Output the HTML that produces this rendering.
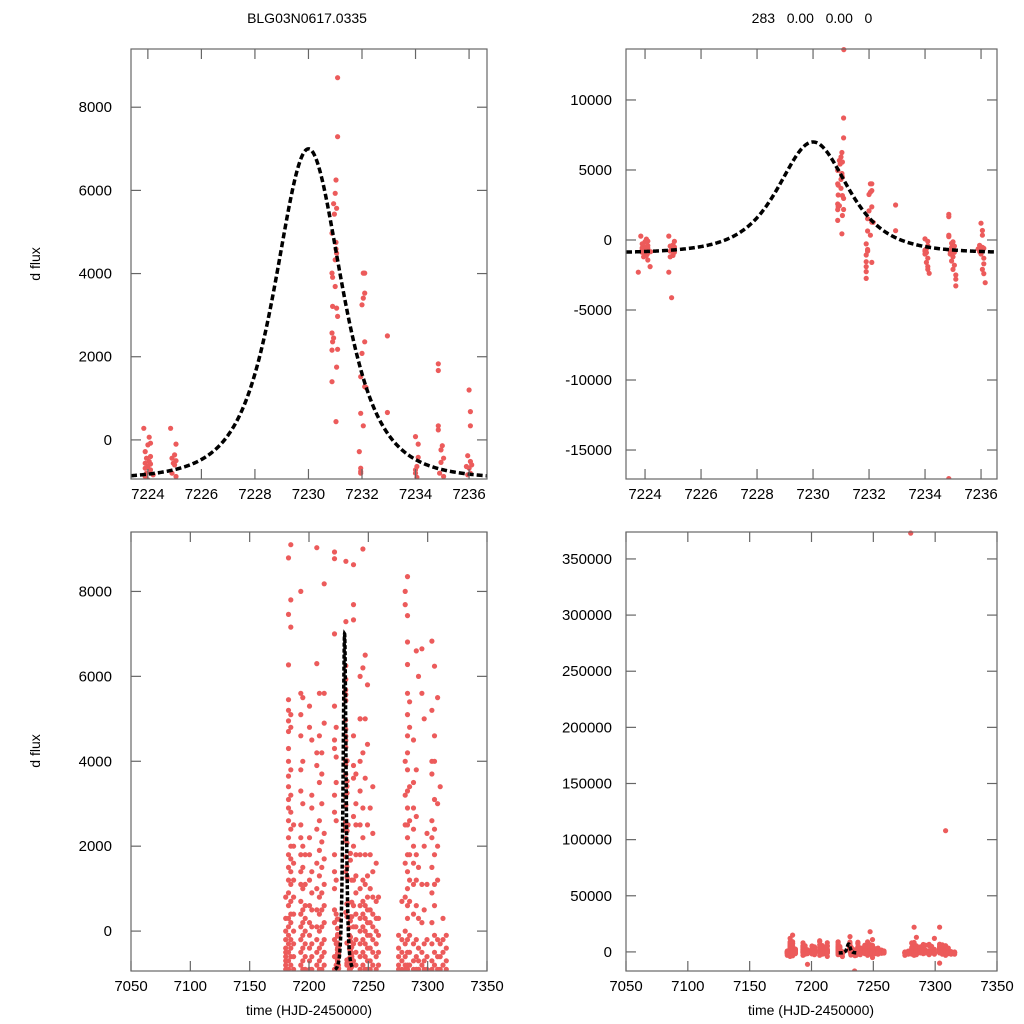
<!DOCTYPE html>
<html><head><meta charset="utf-8">
<style>
html,body{margin:0;padding:0;background:#fff;}
svg{display:block;font-family:"Liberation Sans",sans-serif;}
</style></head>
<body>
<svg id="chart" width="1024" height="1024" viewBox="0 0 1024 1024" xmlns="http://www.w3.org/2000/svg">
<rect width="1024" height="1024" fill="#fff"/>
<text x="307" y="23" font-size="14" text-anchor="middle">BLG03N0617.0335</text>
<text x="812" y="23" font-size="14" text-anchor="middle" xml:space="preserve">283   0.00   0.00   0</text>
<text transform="translate(40,264) rotate(-90)" font-size="14" text-anchor="middle">d flux</text>
<text transform="translate(40,751) rotate(-90)" font-size="14" text-anchor="middle">d flux</text>
<text x="309" y="1015" font-size="14" text-anchor="middle">time (HJD-2450000)</text>
<text x="811" y="1015" font-size="14" text-anchor="middle">time (HJD-2450000)</text>
</svg>
<script>
// ---- data ----
const windowTimes = [7223.85,7224.05,7224.1,7224.0,7223.9,7224.1,7223.95,7224.05,7223.9,7224.1,7224.0,7223.9,7224.1,7223.95,7224.2,7223.9,7224.05,7223.95,7224.1,7224.18,7223.76,7224.0,7224.08,
 7224.85,7225.05,7225.0,7224.9,7225.05,7224.95,7225.0,7224.9,7225.05,7225.0,7224.9,7224.85,7224.95,
 7231.09,7231.09,7231.03,7231.0,7230.94,7231.05,7230.97,7230.88,7231.03,7231.03,7231.05,7231.0,7230.88,7230.9,7231.0,7230.9,7231.05,7231.09,7230.88,7230.94,7230.9,7231.09,7230.88,7231.05,7230.88,7231.03,7231.1,
 7232.05,7232.1,7232.1,7232.05,7232.0,7232.1,7232.0,7231.95,7232.1,7232.15,7231.95,7232.05,7231.9,7231.95,7231.95,7231.95,7231.9,7231.9,7232.1,7231.9,7231.9,7231.9,
 7232.95,7232.95,
 7234.0,7234.1,7234.1,7234.05,7234.0,7234.0,7234.05,7234.0,7234.1,7234.05,7234.1,7234.1,7234.15,
 7234.85,7234.85,7234.85,7234.85,7235.0,7234.95,7235.05,7234.95,7234.9,7235.05,7234.9,7235.0,7234.95,7235.05,7235.0,7235.1,7235.1,7235.1,7234.85,
 7236.0,7236.05,7236.05,7235.95,7236.05,7236.1,7235.9,7236.0,7236.05,7235.95,7236.0,7236.1,7236.1,7236.05,7236.1,7236.15];
const windowFlux = [280,64,-80,-120,-280,-400,-440,-520,-560,-580,-640,-680,-720,-800,-840,-880,-1100,-1200,-1430,-1900,-2300,-960,-1000,
 280,-100,-360,-440,-500,-560,-600,-800,-880,-1100,-1200,-2300,-4120,
 8710,7290,6250,5930,5680,5570,5430,4970,4750,4590,4490,4330,4010,3910,3690,3210,3170,2970,2570,2450,2360,2180,2160,1750,1400,440,13600,
 4010,4010,3530,3410,3250,2360,2080,1520,1280,1260,640,340,-280,-680,-760,-800,-1070,-1550,-1600,-1900,-2260,-2740,
 2500,660,
 80,-100,-420,-640,-720,-800,-900,-1000,-1300,-1600,-1900,-2100,-2380,
 1830,1670,340,240,-140,-240,-440,-540,-800,-880,-1000,-1200,-1500,-1800,-2100,-2500,-2800,-3280,-17040,
 1200,680,340,-380,-520,-600,-640,-680,-800,-840,-1000,-1300,-1700,-2100,-2400,-3050];
const nightTimes = [7180.4,7182.7,7184.7,7187,7193.1,7194.8,7196.8,7200.4,7202.4,7206.6,7208.8,7210.8,7212.8,7221.5,7222.9,
 7237.5,7239.5,7243.1,7245.4,7247.4,7249.3,7251.6,7253.8,7256.6,7258.6,
 7275.5,7278.3,7280.2,7281.1,7283,7284.8,7288.1,7290.4,7292.3,7295.1,7297.1,7299.4,7303.6,7305.8,7308.4,7310.6,7312.9,7315.7];
const nightFlux = [
 [800,300,0,-200,-400,-500,-600,-700,-800,-900,-1200,-2000,-3000],
 [8790,7460,6270,5450,5200,4950,4700,4300,4000,3650,3400,3100,2900,2600,2200,1800,1500,1200,900,600,300,100,-100,-300,-500,-700,-900,-1500,-2500,-4000,12000],
 [9100,7800,7160,5100,4800,3800,3200,2800,2400,2000,1700,1400,1100,700,400,200,-200,-400,-600,-800,-1000,-2000,-3500,15000],
 [2500,2000,1600,1200,800,400,0,-300,-600,-900,-1500],
 [5600,5100,4600,3800,3300,2500,2200,1800,1400,1100,700,400,100,-200,-500,-800,-1000,-3000,8000],
 [5500,4000,3000,2000,1500,1000,500,200,-100,-400,-700,-900,-2000],
 [1800,1100,600,300,0,-300,-600,-900,-1500,-11000],
 [5300,4800,2200,1800,1200,600,200,-100,-400,-700,-900,-1800],
 [4500,3200,2900,1400,900,500,100,-300,-600,-900,-2500],
 [9030,6300,4200,3900,2400,1600,1000,500,100,-200,-500,-800,-1200,-3000,10000],
 [5600,4600,3500,2600,1900,1300,800,400,0,-400,-700,-900,-2000],
 [4200,3700,3000,2100,1500,900,500,100,-300,-600,-900,-1600],
 [8180,5600,4900,2300,1700,1100,600,200,-200,-500,-800,-1000,-4000],
 [8930,8770,7000,5300,4500,4300,3200,2800,1800,1400,1000,500,200,-200,-600,-900,-2500],
 [4800,4100,3500,2600,1200,400,-300,-800],
 [8630,7690,7330,4600,3900,3600,2700,2000,1200,600,100,-300,-700,-1000,-2000],
 [3700,3000,2500,1800,1300,900,400,100,-200,-500,-800,-1200,-2500],
 [6000,5000,4000,3300,2500,1800,1000,600,300,0,-300,-600,-900,-1500,5000],
 [6200,4200,2900,2200,1200,700,400,100,-200,-500,-800,-1000,-3000,9000],
 [6500,5000,3600,1800,1100,600,300,0,-300,-600,-900,-2000,18000],
 [5800,4400,2500,1300,800,500,200,-100,-400,-700,-900,-5000,11000],
 [2900,1800,1000,500,200,-100,-400,-700,-900,-1500],
 [3400,2300,1400,800,400,100,-200,-500,-800,-2000],
 [1600,700,300,0,-300,-600,-900,-1200],
 [800,300,-100,-500,-800,-1000],
 [-100,-400,-600,-800,-900,-1500,-3000],
 [700,-200,-500,-700,-900,-2000],
 [373000],
 [7690,4000,3200,2500,1600,800,0,-300,-600,-800,-900,-2000,8000],
 [8350,7430,6810,6280,5600,5100,4600,4200,3800,3300,2900,2500,2200,1800,1400,1000,600,300,-200,-500,-800,-900,-3000,22000],
 [5400,4800,3400,2600,1800,1200,700,-100,-500,-800,-2500,13000],
 [4500,3500,2900,2400,2000,1600,1100,400,-300,-700,-900],
 [6600,3800,2700,1800,1200,600,-200,-600,-900,-1500],
 [6000,1500,300,-400,-700,-900],
 [6650,5600,1100,200,-500,-800,-1200,-2500],
 [5000,2000,500,-300,-700,-900],
 [2300,1100,-200,-600,-900,-2000,12000],
 [6830,5200,4000,3700,2600,2200,1500,900,200,-300,-700,-900,-10000,22000],
 [6240,4600,4000,3100,2400,1800,1100,600,-100,-500,-800,-2000],
 [5500,3000,2000,1200,-200,-600,-900,-3000,108000],
 [3400,-300,-600,-900,-1500],
 [300,-200,-500,-800,-1000,-2000],
 [-100,-400,-700,-900,-2000]];
// model fit parameters
const fitT0 = 7230.0;
const fitPeak = 7000;
const fitBase = -950;
const fitWidth = 2.28;
const fitRange = [7222.0, 7237.0];

const topXTicks = [7224,7226,7228,7230,7232,7234,7236];
const botXTicks = [7050,7100,7150,7200,7250,7300,7350];
const tlYTicks = [0,2000,4000,6000,8000];
const trYTicks = [-15000,-10000,-5000,0,5000,10000];
const blYTicks = [0,2000,4000,6000,8000];
const brYTicks = [0,50000,100000,150000,200000,250000,300000,350000];

// ---- rendering ----
const NS = "http://www.w3.org/2000/svg";
const svg = document.getElementById('chart');
function mk(tag, attrs, parent){const e=document.createElementNS(NS,tag);for(const k in attrs)e.setAttribute(k,attrs[k]);(parent||svg).appendChild(e);return e;}

const allT=[], allF=[];
windowTimes.forEach((t,i)=>{allT.push(t);allF.push(windowFlux[i]);});
nightTimes.forEach((t,i)=>nightFlux[i].forEach(f=>{allT.push(t);allF.push(f);}));
function model(t){const d=(t-fitT0)/fitWidth;const q=1+d*d;return fitBase+(fitPeak-fitBase)/(q*q);}

const panels=[
 {name:'top-left',x0:131,x1:487,y0:49,y1:479,xmin:7223.37,xmax:7236.67,ymin:-940,ymax:9400,xt:topXTicks,yt:tlYTicks,lx:112},
 {name:'top-right',x0:626,x1:997,y0:49,y1:479,xmin:7223.32,xmax:7236.57,ymin:-17070,ymax:13640,xt:topXTicks,yt:trYTicks,lx:612},
 {name:'bottom-left',x0:131,x1:487,y0:532,y1:971,xmin:7050,xmax:7350,ymin:-940,ymax:9400,xt:botXTicks,yt:blYTicks,lx:112},
 {name:'bottom-right',x0:626,x1:997,y0:532,y1:971,xmin:7050,xmax:7350,ymin:-17000,ymax:374000,xt:botXTicks,yt:brYTicks,lx:612}
];
const defs=mk('defs',{});
panels.forEach((p,pi)=>{
 const sx=t=>p.x0+(t-p.xmin)/(p.xmax-p.xmin)*(p.x1-p.x0);
 const sy=f=>p.y1-(f-p.ymin)/(p.ymax-p.ymin)*(p.y1-p.y0);
 const cp=mk('clipPath',{id:'clip'+pi},defs);
 mk('rect',{x:p.x0,y:p.y0-3,width:p.x1-p.x0,height:p.y1-p.y0+3},cp);
 const g=mk('g',{});
 
 
 const pts=mk('g',{'clip-path':'url(#clip'+pi+')',fill:'#ec5b5b'},g);
 
 
 allT.forEach((t,i)=>{
  const f=allF[i];
  if(t<p.xmin||t>p.xmax||f<p.ymin-500*(p.ymax-p.ymin)/10000||f>p.ymax)return;
  const c=mk('circle',{cx:sx(t).toFixed(1),cy:sy(f).toFixed(1),r:2.6},pts);
  
  
 });
 // fit curve
 const ta=Math.max(p.xmin,fitRange[0]), tb=Math.min(p.xmax,fitRange[1]);
 let d='';const N=400;
 for(let k=0;k<=N;k++){const t=ta+(tb-ta)*k/N;d+=(k?'L':'M')+sx(t).toFixed(2)+','+sy(model(t)).toFixed(2);}
 const isBot=pi>=2;
 const cv=mk('path',{d:d,fill:'none',stroke:'#000','stroke-width':3.5,'stroke-dasharray':isBot?'4,2':'6,3','clip-path':'url(#clip'+pi+')'},g);
 
 
 // frame
 const fr=mk('rect',{x:p.x0,y:p.y0,width:p.x1-p.x0,height:p.y1-p.y0,fill:'none',stroke:'#666','stroke-width':1.2},g);
 
 
 p.xt.forEach(v=>{
  const x=sx(v);
  mk('line',{x1:x,x2:x,y1:p.y1,y2:p.y1-10,stroke:'#666','stroke-width':1.2},g);
  mk('line',{x1:x,x2:x,y1:p.y0,y2:p.y0+10,stroke:'#666','stroke-width':1.2},g);
  const tx=mk('text',{x:x,y:p.y1+20,'font-size':15,'text-anchor':'middle',fill:'#000'},g);
  
  
  tx.textContent=v;
 });
 p.yt.forEach(v=>{
  const y=sy(v);
  mk('line',{x1:p.x0,x2:p.x0+10,y1:y,y2:y,stroke:'#666','stroke-width':1.2},g);
  mk('line',{x1:p.x1,x2:p.x1-10,y1:y,y2:y,stroke:'#666','stroke-width':1.2},g);
  const tx=mk('text',{x:p.lx,y:y+5,'font-size':15,'text-anchor':'end',fill:'#000'},g);
  
  
  tx.textContent=v;
 });
});
</script>
</body></html>
